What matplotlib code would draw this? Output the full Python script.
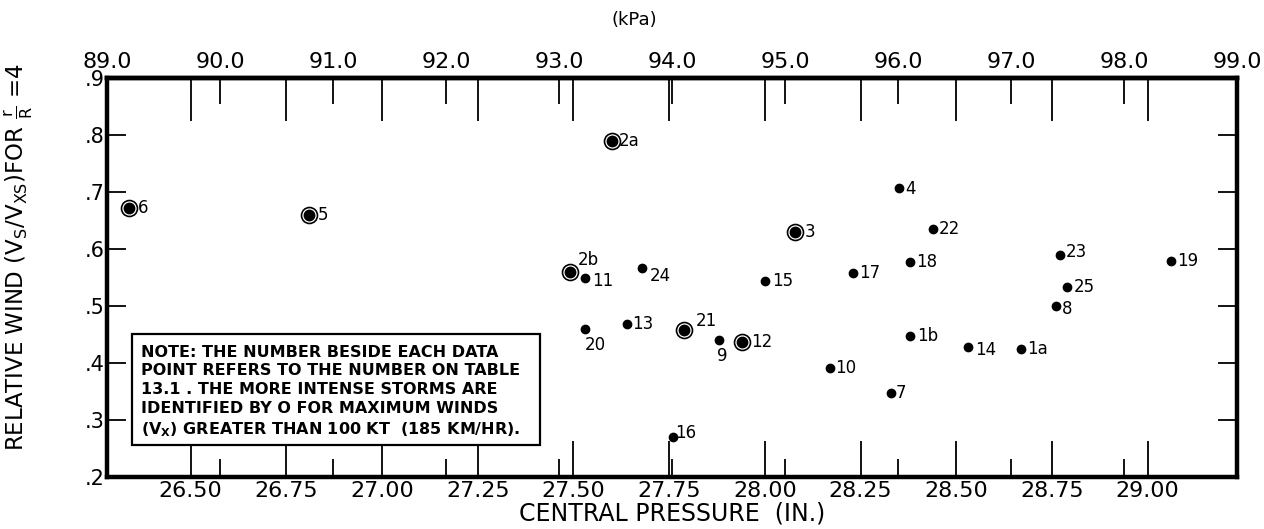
import matplotlib
matplotlib.use('Agg')
import matplotlib.pyplot as plt
import matplotlib.ticker as mticker
from matplotlib.patches import Rectangle
import numpy as np

KPA_PER_INHG = 3.38639

# storm numbers (Table 13.1), central pressure (in.) and relative wind
storms = ['6', '5', '2a', '2b', '11', '24', '15', '3', '17', '20', '13', '21',
          '9', '12', '10', '4', '22', '18', '23', '19', '25', '8', '1b', '14',
          '1a', '7', '16']
pressure_in = [26.34, 26.81, 27.60, 27.49, 27.53, 27.68, 28.00, 28.08, 28.23,
               27.53, 27.64, 27.79, 27.88, 27.94, 28.17, 28.35, 28.44, 28.38,
               28.77, 29.06, 28.79, 28.76, 28.38, 28.53, 28.67, 28.33, 27.76]
rel_wind = [0.672, 0.660, 0.790, 0.560, 0.549, 0.567, 0.544, 0.630, 0.558,
            0.460, 0.468, 0.458, 0.440, 0.437, 0.391, 0.707, 0.635, 0.577,
            0.589, 0.579, 0.533, 0.500, 0.447, 0.428, 0.425, 0.347, 0.270]
# storms with max winds over 100 kt, drawn circled
intense = ['6', '5', '2a', '2b', '3', '21', '12']

inch_ticks = [26.50, 26.75, 27.00, 27.25, 27.50, 27.75, 28.00, 28.25, 28.50,
              28.75, 29.00]
kpa_ticks = [89.0, 90.0, 91.0, 92.0, 93.0, 94.0, 95.0, 96.0, 97.0, 98.0, 99.0]
wind_ticks = [0.2, 0.3, 0.4, 0.5, 0.6, 0.7, 0.8, 0.9]

# label offsets from the dot, in pixels (dx right, dy down)
label_offsets = {
    '6': (14, 0), '5': (14, 0), '2a': (17, 0), '2b': (19, -12),
    '11': (18, 3), '24': (18, 8), '15': (18, 0), '3': (15, 0),
    '17': (17, 0), '20': (10, 16), '13': (16, 0), '21': (22, -9),
    '9': (3, 16), '12': (20, 0), '10': (16, 0), '4': (12, 1),
    '22': (16, 0), '18': (16, 0), '23': (17, -3), '19': (17, 0),
    '25': (17, 0), '8': (11, 3), '1b': (17, 0), '14': (18, 3),
    '1a': (16, 0), '7': (10, 0), '16': (13, -4),
}

plt.rcParams['font.family'] = 'DejaVu Sans'
PX = 72.0 / 100.0  # pixels -> points

fig, ax = plt.subplots(figsize=(12.64, 5.29), dpi=100)
fig.subplots_adjust(left=0.0847, right=0.979, bottom=0.098, top=0.853)

for name, x, y in zip(storms, pressure_in, rel_wind):
    if name in intense:
        ax.plot(x, y, 'o', color='k', markersize=7.5, zorder=3)
        ax.plot(x, y, 'o', mfc='none', mec='k', mew=1.2,
                markersize=11.5, zorder=3)
    else:
        ax.plot(x, y, 'o', color='k', markersize=6, zorder=3)
    dx, dy = label_offsets[name]
    ax.annotate(name, (x, y), xytext=(dx * PX, -dy * PX),
                textcoords='offset points', ha='center', va='center',
                fontsize=12)

ax.set_xlim(89.0 / KPA_PER_INHG, 99.0 / KPA_PER_INHG)
ax.set_ylim(0.2, 0.9)

# bottom axis: inches (long ticks) and kPa positions (short ticks)
ax.set_xticks(inch_ticks)
ax.xaxis.set_major_formatter(mticker.FormatStrFormatter('%.2f'))
ax.set_xticks(np.array(kpa_ticks[1:-1]) / KPA_PER_INHG, minor=True)
ax.tick_params(axis='x', which='major', direction='in', length=26, width=1.3,
               labelsize=16, pad=3)
ax.tick_params(axis='x', which='minor', direction='in', length=13, width=1.3)

ax.set_yticks(wind_ticks)
ax.yaxis.set_major_formatter(
    mticker.FuncFormatter(lambda v, pos: ('%.1f' % v).lstrip('0')))
ax.tick_params(axis='y', which='major', direction='in', length=14, width=1.3,
               labelsize=15, pad=2, right=True)

# top axis in kPa
secax = ax.secondary_xaxis('top', functions=(lambda x: x * KPA_PER_INHG,
                                             lambda p: p / KPA_PER_INHG))
secax.set_xticks(kpa_ticks)
secax.xaxis.set_major_formatter(mticker.FormatStrFormatter('%.1f'))
secax.xaxis.set_minor_locator(
    mticker.FixedLocator(np.array(inch_ticks) * KPA_PER_INHG))
secax.tick_params(axis='x', which='major', direction='in', length=19,
                  width=1.3, labelsize=16, pad=4)
secax.tick_params(axis='x', which='minor', direction='in', length=31,
                  width=1.3)

for side in ['left', 'right', 'top', 'bottom']:
    ax.spines[side].set_linewidth(3.2)
secax.spines['top'].set_linewidth(3.2)

ax.set_xlabel('CENTRAL PRESSURE  (IN.)', fontsize=17, labelpad=0)
ax.set_ylabel(r'RELATIVE WIND $\mathregular{(V_S/V_{XS})}$FOR '
              r'$\mathregular{\frac{r}{R}}$ =4', fontsize=16.5)
ax.yaxis.set_label_coords(-0.064, 0.55)
fig.text(0.502, 1 - 20 / 529, '(kPa)', ha='center', va='center', fontsize=13)

# note box
ax.add_patch(Rectangle((0.022, 0.080), 0.361, 0.278, transform=ax.transAxes,
                       fill=True, fc='white', ec='k', lw=1.6, zorder=4))
note = ('NOTE: THE NUMBER BESIDE EACH DATA\n'
        'POINT REFERS TO THE NUMBER ON TABLE\n'
        '13.1 . THE MORE INTENSE STORMS ARE\n'
        'IDENTIFIED BY O FOR MAXIMUM WINDS\n'
        r'$\mathregular{(V_X)}$ GREATER THAN 100 KT  (185 KM/HR).')
ax.text(0.030, 0.332, note, transform=ax.transAxes, ha='left', va='top',
        fontsize=11.5, fontweight='bold', linespacing=1.32, zorder=5)

fig.savefig('out.png', dpi=100)
